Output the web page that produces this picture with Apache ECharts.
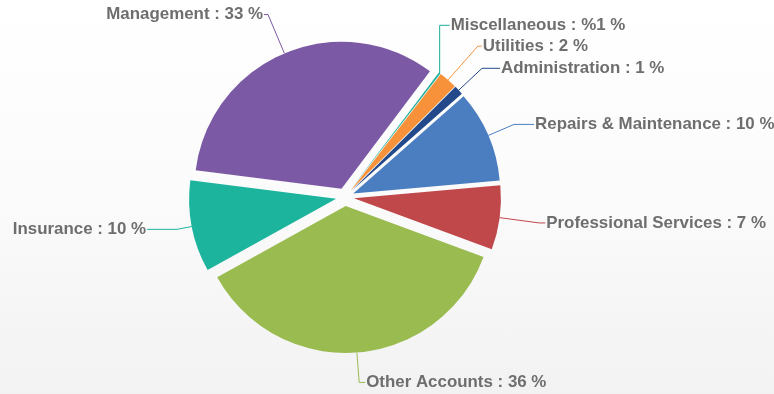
<!DOCTYPE html>
<html>
<head>
<meta charset="utf-8">
<script src="https://cdn.jsdelivr.net/npm/echarts@6/dist/echarts.min.js"></script>
<style>
html,body{margin:0;padding:0;}
#c{width:774px;height:394px;background:linear-gradient(#ffffff 0%, #fbfbfb 50%, #f2f2f2 100%);}
</style>
</head>
<body>
<div id="c"></div>
<script>
const categories = ['Miscellaneous', 'Utilities', 'Administration', 'Repairs & Maintenance', 'Professional Services', 'Other Accounts', 'Insurance', 'Management'];
const values = [0.2, 2, 1, 10, 7, 36, 10, 33];
const percentLabels = ['%1', '2', '1', '10', '7', '36', '10', '33'];
const colors = ['#1aaf9a', '#f7923a', '#24498a', '#4a7ec0', '#c0474a', '#99bb4f', '#1db49e', '#7c59a4'];

// leader line layout (first radial segment, second horizontal segment)
const leaderLen1 = [60, 45, 32, 28, 40, 30, 15, 42];
const leaderLen2 = [8, 4, 18, 20, 6, 6, 30, 4];

const chart = echarts.init(document.getElementById('c'), null, {renderer: 'canvas'});
const data = categories.map((n, i) => ({
  name: n,
  value: values[i],
  selected: true,
  itemStyle: {color: colors[i]},
  label: {formatter: n + ' : ' + percentLabels[i] + ' %'},
  labelLine: {length: leaderLen1[i], length2: leaderLen2[i]}
}));
chart.setOption({
  animation: false,
  series: [{
    type: 'pie',
    center: [345, 197],
    radius: 147,
    startAngle: 53,
    clockwise: true,
    selectedMode: 'multiple',
    selectedOffset: 9,
    avoidLabelOverlap: false,
    itemStyle: {borderWidth: 0},
    label: {
      color: '#6e6e6e',
      fontFamily: 'Liberation Sans, Arial, sans-serif',
      fontWeight: 'bold',
      fontSize: 16.9,
      distanceToLabelLine: 1
    },
    labelLine: {lineStyle: {width: 1}},
    labelLayout: function (params) {
      if (params.dataIndex !== 0) return {};
      const pts = params.labelLinePoints;
      if (!pts) return {};
      const p0 = pts[0];
      const y = pts[2][1];
      const targetX = p0[0] + 10;
      return {
        dx: targetX + 1 - params.labelRect.x,
        labelLinePoints: [p0, [p0[0], y], [targetX, y]]
      };
    },
    data: data
  }]
});
</script>
</body>
</html>
